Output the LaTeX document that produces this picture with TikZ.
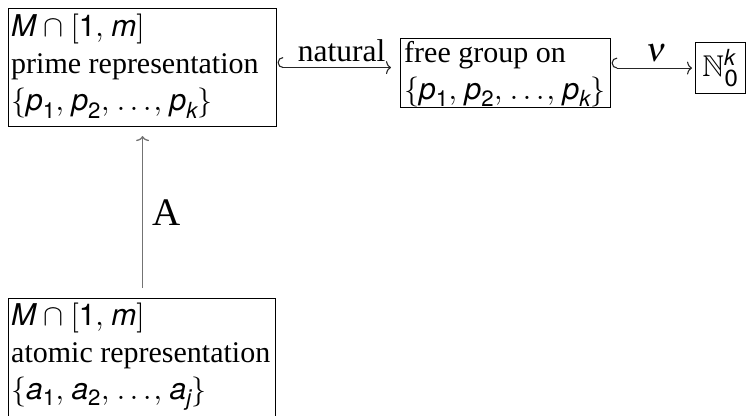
\documentclass[tikz,border=0pt]{standalone}
\usepackage{amsmath,amssymb}
\usepackage{mathptmx}
\usepackage{fontspec}
\setmainfont{Liberation Serif}
\newfontfamily\hv{TeX Gyre Heros}
\newfontfamily\dvs{DejaVu Sans}
\usetikzlibrary{arrows.meta,calc}
% sans-serif italic variables and sans subscripts
\newcommand{\sv}[1]{\text{\hv\itshape #1}}
\newcommand{\sd}[1]{\text{\hv #1}}
% spaced comma and ellipsis
\newcommand{\cm}{,\hspace{0.14em}}
\newcommand{\dts}{.\hspace{0.16em}.\hspace{0.16em}.\hspace{0.08em}}
\newcommand{\interval}{$\sv{M}\hspace{0.1em}\cap\hspace{0.1em}[\sd{1}\cm\sv{m}]$}
\begin{document}
\begin{tikzpicture}[x=1pt,y=-1pt,
  font=\fontsize{30}{37}\selectfont,
  setbox/.style={draw=black,line width=1.1pt,inner sep=0pt,anchor=north west},
  boxtext/.style={anchor=north west,align=left,inner sep=0pt},
  conn/.style={draw=black!85,line width=1.1pt},
  hookarc/.style={draw=black!85,line width=1.1pt},
  inj/.style={conn,-{To[length=5pt,width=13pt]}},
  plain/.style={draw=black!55,line width=1.3pt,-{To[length=5pt,width=13pt]}}]
\useasboundingbox (0,0) rectangle (749,415);
% boxes
\node[setbox,minimum width=268pt,minimum height=118pt] (prime) at (8,8) {};
\node[boxtext] (primetext) at ($(prime.north west)+(3,6)$)
  {\interval\\prime representation\\$\{\sv{p}_{\sd{1}}\cm\sv{p}_{\sd{2}}\cm\dts\cm\sv{p}_{\sv{k}}\}$};
\node[setbox,minimum width=210pt,minimum height=69pt] (free) at (400,38) {};
\node[boxtext] (freetext) at ($(free.north west)+(4,3)$)
  {free group on\\$\{\sv{p}_{\sd{1}}\cm\sv{p}_{\sd{2}}\cm\dts\cm\sv{p}_{\sv{k}}\}$};
\node[setbox,minimum width=50pt,minimum height=51pt] (nat) at (695,42) {};
\node (nattext) at (nat.center) {$\mathbb{N}_{\text{\dvs 0}}^{\sv{k}}$};
\node[setbox,minimum width=267pt,minimum height=140pt] (atom) at (8,298) {};
\node[boxtext] (atomtext) at ($(atom.north west)+(3,5)$)
  {\interval\\atomic representation\\$\{\sv{a}_{\sd{1}}\cm\sv{a}_{\sd{2}}\cm\dts\cm\sv{a}_{\sv{j}}\}$};
% connectors: hooked inclusions and the plain map A
\coordinate (h1) at ($(prime.east)+(6,0)$);
\draw[hookarc] (h1) arc[start angle=90,end angle=270,radius=5];
\draw[inj,shorten >=9pt] (h1) -- (h1 -| free.west)
  node[midway,above=2pt,font=\fontsize{31.5}{37}\selectfont] (natlabel) {natural};
\coordinate (h2) at ($(free.east |- nat.west)+(6,0)$);
\draw[hookarc] (h2) arc[start angle=90,end angle=270,radius=5];
\draw[inj,shorten >=3pt] (h2) -- (nat.west)
  node[midway,above=2pt,font=\fontsize{34}{40}\selectfont] (nulabel) {$\nu$};
\draw[plain,shorten <=10pt,shorten >=9pt] (atom.north -| prime.south) -- (prime.south)
  node[midway,right=6pt,font=\fontsize{39}{45}\selectfont] (alabel) {A};
\end{tikzpicture}
\end{document}
